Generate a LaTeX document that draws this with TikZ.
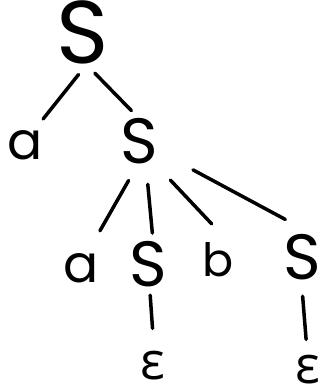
\documentclass[tikz,border=0pt]{standalone}
\usepackage{fontspec}
\setmainfont{Poppins}
\newfontfamily\epsfont{Open Sans}
\usetikzlibrary{positioning}

\newcommand\rootsize{\fontsize{89}{89}\selectfont}
\newcommand\symsize{\fontsize{64}{64}\selectfont}
\newcommand\leafsize{\fontsize{52}{52}\selectfont}

\begin{document}
\begin{tikzpicture}[x=1pt, y=-1pt, line width=3.5pt, line cap=round,
  sym/.style={circle, inner sep=0pt, minimum size=#1},
  nonterm/.style={font=\symsize},
  term/.style={font=\leafsize}]

\useasboundingbox (0,0) rectangle (322,384);

% symbols of the tree
\node[sym=72, font=\rootsize] (s0) at (83,32) {S};
\node[sym=48, term] (a0) at (25,145) {a};
\node[sym=50, nonterm] (s1) at (139,141) {S};

\node[sym=80, term] (a1) at (81,268) {a};
\node[sym=56, nonterm] (s2) at (148,264) {S};
\node[sym=70, term, font=\fontsize{46}{46}\selectfont] (b1) at (218,260) {b};
\node[sym=40, nonterm] (s3) at (302,257) {S};

\node[sym=34, term] (e1) at (153,366) {\epsfont ε};
\node[sym=26, term] (e2) at (308,370) {\epsfont ε};

% branches
\draw[shorten >=6pt] (s0.-96) -- (a0.56);
\draw (s0.-74) -- (s1.104);

\draw[shorten <=10pt] (s1.-100) -- (a1.63);
\draw[shorten <=13pt] (s1.-76) -- (s2.82);
\draw[shorten <=19pt] (s1.-54) -- (b1.100);
\draw[shorten <=30pt, shorten >=14pt] (s1.-28) -- (s3.98);

\draw[shorten >=17pt] (s2.-86) -- (e1.88);
\draw[shorten <=8pt, shorten >=10pt] (s3.-90) -- (e2.93);

\end{tikzpicture}
\end{document}
